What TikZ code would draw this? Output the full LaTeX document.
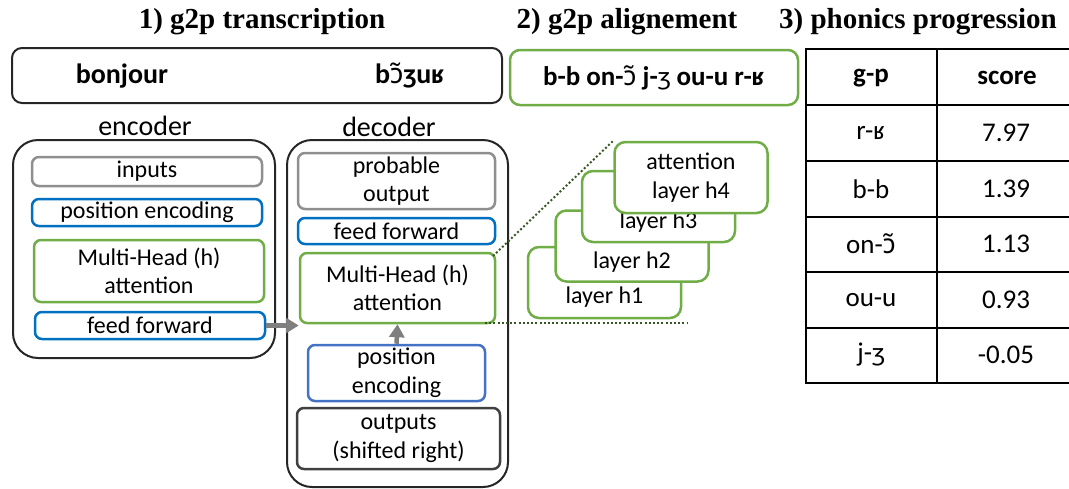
\documentclass[tikz,border=0pt]{standalone}
\usepackage{fontspec}
\setmainfont{Carlito}
\newfontfamily\titlefont{Liberation Serif}
\newfontfamily\ipafont{Noto Sans}
\usetikzlibrary{arrows.meta}
\definecolor{cdark}{HTML}{262626}
\definecolor{cgray}{HTML}{8F8F8F}
\definecolor{cblue}{HTML}{0070C0}
\definecolor{cblue2}{HTML}{4472C4}
\definecolor{cgreen}{HTML}{70AD47}
\definecolor{cout}{HTML}{404040}
\definecolor{carrow}{HTML}{7F7F7F}
\definecolor{cdot}{HTML}{385723}
\newcommand{\otilde}{{\ipafont ɔ̃}}
\begin{document}
\begin{tikzpicture}[x=1pt,y=-1pt,
  title/.style={font=\titlefont\bfseries\fontsize{29}{32}\selectfont, inner sep=0pt},
  outerbox/.style={draw=cdark, line width=2pt, rounded corners=25pt, inner sep=0pt},
  inbox/.style={draw=#1, line width=2.5pt, rounded corners=7pt, fill=white, inner sep=0pt, align=center, font=\fontsize{24}{28.5}\selectfont},
  layerbox/.style={draw=cgreen, line width=2.5pt, rounded corners=11pt, fill=white, inner sep=0pt, minimum width=153pt, minimum height=71pt},
  txt/.style={inner sep=0pt, align=center, font=\fontsize{24}{28.5}\selectfont},
  lbl/.style={inner sep=0pt, font=\fontsize{28}{30}\selectfont},
  big/.style={inner sep=0pt, font=\bfseries\fontsize{28}{30}\selectfont},
  tabtxt/.style={inner sep=0pt, font=\fontsize{27}{30}\selectfont},
  tabhead/.style={inner sep=0pt, font=\bfseries\fontsize{27}{30}\selectfont},
  tabline/.style={draw=black, line width=2.5pt},
  garrow/.style={draw=carrow, line width=4.5pt, -{Triangle[length=13pt,width=15pt]}},
  dotline/.style={draw=cdot, line width=2pt, dash pattern=on 2pt off 2.2pt}
]
\useasboundingbox (0,0) rectangle (1069,488);

% titles
\node[title] (t1) at (262,22) {1) g2p transcription};
\node[title] (t2) at (627,22) {2) g2p alignement};
\node[title] (t3) at (918,22) {3) phonics progression};

% top boxes
\node[draw=cdark, line width=2pt, rounded corners=10pt, minimum width=490pt, minimum height=55pt] (top) at (257,75.5) {};
\node[big] (bonjour) at (122,76) {bonjour};
\node[big] (ipa) at (410,76) {b{\ipafont\bfseries ɔ̃}ʒuʁ};
\node[draw=cgreen, line width=2.5pt, rounded corners=10pt, minimum width=288pt, minimum height=55pt, inner sep=0pt, font=\bfseries\fontsize{27}{30}\selectfont] (align) at (654,77.5) {b-b on-{\mdseries\otilde} j-{\mdseries ʒ} ou-u r-ʁ};

% encoder
\node[lbl] (encl) at (145,126) {encoder};
\node[outerbox, minimum width=262pt, minimum height=218pt] (enc) at (144,249) {};
\node[inbox=cgray, minimum width=230pt, minimum height=29pt] (inputs) at (147,171.5) {inputs};
\node[inbox=cblue, minimum width=230pt, minimum height=27pt] (epos) at (147,212.5) {position encoding};
\node[inbox=cgreen, minimum width=230pt, minimum height=62pt] (emha) at (149,271) {Multi-Head (h)\\attention};
\node[inbox=cblue, minimum width=230pt, minimum height=27pt] (eff) at (150,325.5) {feed forward};

% decoder
\node[lbl] (decl) at (389,127) {decoder};
\node[outerbox, minimum width=221pt, minimum height=347pt] (dec) at (397.5,313.5) {};
\node[inbox=cgray, minimum width=197pt, minimum height=56pt] (prob) at (396.5,181) {probable\\output};
\node[inbox=cblue, minimum width=197pt, minimum height=26pt] (dff) at (396.5,231) {feed forward};
\node[inbox=cgreen, minimum width=195pt, minimum height=70pt] (dmha) at (397.5,288) {Multi-Head (h)\\attention};
\node[inbox=cblue2, minimum width=177pt, minimum height=56pt] (dpos) at (396.5,373) {position\\encoding};
\node[inbox=cout, minimum width=203pt, minimum height=61pt] (outs) at (398.5,438.5) {outputs\\(shifted right)};

% arrows
\draw[garrow] (eff.east) -- (eff.east -| dmha.west);
\draw[garrow] (dpos.north) -- (dmha.south);

% dotted zoom lines
\coordinate (z1) at (493,256);
\coordinate (z2) at (485,323);
\coordinate (z3) at (688,323);

% attention layers
\node[layerbox] (h1) at (604.5,282.5) {};
\node[txt] (h1t) at (604.5,297) {layer h1};
\node[layerbox] (h2) at (632,246) {};
\node[txt] (h2t) at (632,262) {layer h2};
\node[layerbox] (h3) at (658.5,206.5) {};
\node[txt] (h3t) at (658.5,222) {layer h3};
\node[layerbox] (h4) at (691,177.5) {};
\node[txt] (h4t) at (691,177.5) {attention\\layer h4};

\draw[dotline] (z1) -- (h4.north west);
\draw[dotline] (z2) -- (z3);

% table
\draw[tabline] (806,49) -- (1075,49);
\draw[tabline] (806,105) -- (1075,105);
\draw[tabline] (806,161) -- (1075,161);
\draw[tabline] (806,217) -- (1075,217);
\draw[tabline] (806,272) -- (1075,272);
\draw[tabline] (806,328) -- (1075,328);
\draw[tabline] (806,383) -- (1075,383);
\draw[tabline] (806,47.75) -- (806,384.25);
\draw[tabline] (937,47.75) -- (937,384.25);
\node[tabhead] (gp) at (871,78) {g-p};
\node[tabhead] (sc) at (1007,78) {score};
\node[tabtxt] (r1a) at (871,133) {r-ʁ};
\node[tabtxt] (r1b) at (1006,133) {7.97};
\node[tabtxt] (r2a) at (871,189) {b-b};
\node[tabtxt] (r2b) at (1006,189) {1.39};
\node[tabtxt] (r3a) at (871,244) {on-\otilde};
\node[tabtxt] (r3b) at (1006,244) {1.13};
\node[tabtxt] (r4a) at (871,300) {ou-u};
\node[tabtxt] (r4b) at (1006,300) {0.93};
\node[tabtxt] (r5a) at (871,355) {j-ʒ};
\node[tabtxt] (r5b) at (1006,355) {-0.05};
\end{tikzpicture}
\end{document}
